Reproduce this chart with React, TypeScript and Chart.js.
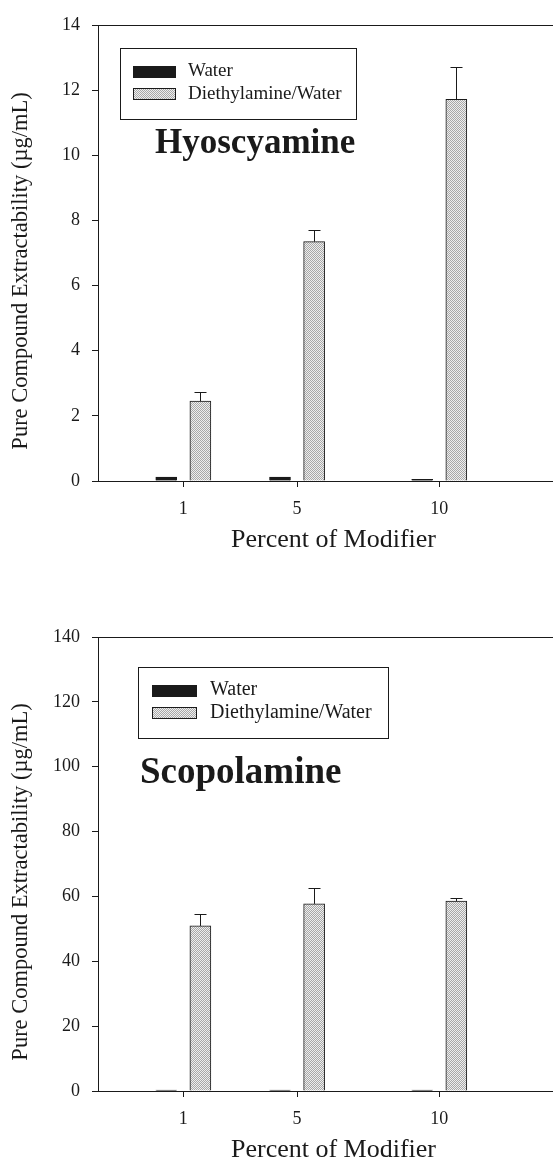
import React, { useEffect, useRef } from "react";
import { Chart, registerables } from "chart.js";

Chart.register(...registerables);

// ---- data ----
const categories = [1, 5, 10];
const tickLabels = ["1", "5", "10"];
const seriesNames = ["Water", "Diethylamine/Water"];

const hyoWater = [0.12, 0.12, 0.05];
const hyoDea = [2.45, 7.35, 11.72];
const hyoDeaErr = [0.28, 0.35, 1.0];

const scoWater = [0.3, 0.3, 0.3];
const scoDea = [50.9, 57.7, 58.6];
const scoDeaErr = [3.7, 4.9, 0.8];

const xAxisTitle = "Percent of Modifier";
const yAxisTitle = "Pure Compound Extractability (\u00b5g/mL)";

const INK = "#1a1a1a";
const FONT = "'Liberation Serif', 'DejaVu Serif', 'Times New Roman', serif";

function makePattern(): CanvasPattern | string {
  const c = document.createElement("canvas");
  c.width = 2;
  c.height = 2;
  const g = c.getContext("2d");
  if (!g) return "#c4c4c4";
  g.fillStyle = "#eeeeee";
  g.fillRect(0, 0, 2, 2);
  g.fillStyle = "#a8a8a8";
  g.fillRect(0, 0, 1, 1);
  g.fillRect(1, 1, 1, 1);
  const ctx = document.createElement("canvas").getContext("2d");
  const p = ctx ? ctx.createPattern(c, "repeat") : null;
  return p || "#c4c4c4";
}

type PanelCfg = {
  title: string;
  water: number[];
  dea: number[];
  deaErr: number[];
  yMax: number;
  yStep: number;
  padTop: number;
  xHeight: number;
  legend: { dx: number; dy: number; w: number; h: number; sx: number; sw: number; tx: number; font: number };
  titlePos: { dx: number; dy: number; size: number };
};

const panels: PanelCfg[] = [
  {
    title: "Hyoscyamine",
    water: hyoWater,
    dea: hyoDea,
    deaErr: hyoDeaErr,
    yMax: 14,
    yStep: 2,
    padTop: 25,
    xHeight: 102,
    legend: { dx: 22, dy: 23, w: 236, h: 71, sx: 13, sw: 43, tx: 68, font: 19 },
    titlePos: { dx: 57, dy: 128, size: 35 },
  },
  {
    title: "Scopolamine",
    water: scoWater,
    dea: scoDea,
    deaErr: scoDeaErr,
    yMax: 140,
    yStep: 20,
    padTop: 54,
    xHeight: 75,
    legend: { dx: 40, dy: 30, w: 250, h: 71, sx: 14, sw: 45, tx: 72, font: 20 },
    titlePos: { dx: 42, dy: 146, size: 37 },
  },
];

const BAR_OFFSET = 0.6;

function Panel({ cfg, top }: { cfg: PanelCfg; top: number }) {
  const ref = useRef<HTMLCanvasElement>(null);
  useEffect(() => {
    const canvas = ref.current;
    if (!canvas) return;
    const pattern = makePattern();

    const decor = {
      id: "decor",
      afterDatasetsDraw(chart: any) {
        const { ctx, chartArea: a, scales } = chart;
        ctx.save();
        ctx.strokeStyle = INK;
        ctx.lineWidth = 1;
        // top frame line
        ctx.beginPath();
        ctx.moveTo(a.left, Math.round(a.top) + 0.5);
        ctx.lineTo(a.right, Math.round(a.top) + 0.5);
        ctx.stroke();
        // error bars (upper only)
        const meta = chart.getDatasetMeta(1);
        cfg.deaErr.forEach((e, i) => {
          const bar = meta.data[i];
          if (!bar) return;
          const x = Math.round(bar.x) + 0.5;
          const yTop = Math.round(scales.y.getPixelForValue(cfg.dea[i] + e)) + 0.5;
          ctx.beginPath();
          ctx.moveTo(x, bar.y);
          ctx.lineTo(x, yTop);
          ctx.moveTo(x - 6, yTop);
          ctx.lineTo(x + 6, yTop);
          ctx.stroke();
        });
        // legend box
        const L = cfg.legend;
        const bx = a.left + L.dx;
        const by = a.top + L.dy;
        ctx.fillStyle = "#ffffff";
        ctx.fillRect(bx, by, L.w, L.h);
        ctx.strokeRect(Math.round(bx) + 0.5, Math.round(by) + 0.5, L.w, L.h);
        const rows = [
          { name: seriesNames[0], fill: INK, sy: 18, ty: 28 },
          { name: seriesNames[1], fill: pattern, sy: 40, ty: 51 },
        ];
        ctx.font = `${L.font}px ${FONT}`;
        ctx.textBaseline = "alphabetic";
        ctx.textAlign = "left";
        rows.forEach((r) => {
          ctx.fillStyle = r.fill as any;
          ctx.fillRect(bx + L.sx, by + r.sy, L.sw, 11);
          ctx.strokeRect(Math.round(bx + L.sx) + 0.5, Math.round(by + r.sy) + 0.5, L.sw - 1, 11);
          ctx.fillStyle = INK;
          ctx.fillText(r.name, bx + L.tx, by + r.ty);
        });
        // panel title
        const T = cfg.titlePos;
        ctx.font = `bold ${T.size}px ${FONT}`;
        ctx.fillStyle = INK;
        ctx.fillText(cfg.title, a.left + T.dx, a.top + T.dy);
        // x axis title
        ctx.font = `26px ${FONT}`;
        ctx.textAlign = "center";
        ctx.fillText(xAxisTitle, (a.left + a.right) / 2 + 8, a.bottom + 66);
        // y axis title
        ctx.save();
        ctx.translate(21, (a.top + a.bottom) / 2 + 18);
        ctx.rotate(-Math.PI / 2);
        ctx.font = `22.5px ${FONT}`;
        ctx.textBaseline = "middle";
        ctx.fillText(yAxisTitle, 0, 0);
        ctx.restore();
        ctx.restore();
      },
    };

    const axisGrid = {
      display: true,
      drawOnChartArea: false,
      drawTicks: true,
      tickLength: 6,
      color: INK,
      offset: false,
    };

    const chart = new Chart(canvas, {
      type: "bar",
      data: {
        datasets: [
          {
            label: seriesNames[0],
            data: categories.map((c, i) => ({ x: c - BAR_OFFSET, y: cfg.water[i] })),
            backgroundColor: INK,
            borderColor: INK,
            borderWidth: 1,
            barThickness: 21,
            grouped: false,
          } as any,
          {
            label: seriesNames[1],
            data: categories.map((c, i) => ({ x: c + BAR_OFFSET, y: cfg.dea[i] })),
            backgroundColor: pattern as any,
            borderColor: INK,
            borderWidth: 1,
            barThickness: 21,
            grouped: false,
          } as any,
        ],
      },
      options: {
        responsive: false,
        animation: false,
        layout: { padding: { top: cfg.padTop, left: 0, right: 0, bottom: 0 } },
        plugins: { legend: { display: false }, tooltip: { enabled: false }, title: { display: false } },
        scales: {
          x: {
            type: "linear",
            min: -2,
            max: 14,
            offset: false,
            afterBuildTicks: (s: any) => {
              s.ticks = categories.map((v) => ({ value: v }));
            },
            afterFit: (s: any) => {
              s.height = cfg.xHeight;
            },
            grid: axisGrid as any,
            border: { display: true, color: INK, width: 1 },
            ticks: {
              padding: 11,
              color: INK,
              font: { size: 18, family: FONT },
              maxRotation: 0,
              autoSkip: false,
              callback: (v: any) => {
                const k = categories.indexOf(Number(v));
                return k >= 0 ? tickLabels[k] : "";
              },
            },
          },
          y: {
            type: "linear",
            min: 0,
            max: cfg.yMax,
            afterFit: (s: any) => {
              s.width = 98;
            },
            grid: axisGrid as any,
            border: { display: true, color: INK, width: 1 },
            ticks: {
              stepSize: cfg.yStep,
              padding: 12,
              color: INK,
              font: { size: 18, family: FONT },
            },
          },
        },
      },
      plugins: [decor as any],
    });
    return () => chart.destroy();
  }, [cfg]);
  return (
    <canvas
      ref={ref}
      width={553}
      height={583}
      style={{ position: "absolute", left: 0, top, width: 553, height: 583, display: "block" }}
    />
  );
}

export default function App() {
  return (
    <div style={{ position: "absolute", left: 0, top: 0, width: 553, height: 1166, background: "#fff", overflow: "hidden" }}>
      <Panel cfg={panels[0]} top={0} />
      <Panel cfg={panels[1]} top={583} />
    </div>
  );
}
